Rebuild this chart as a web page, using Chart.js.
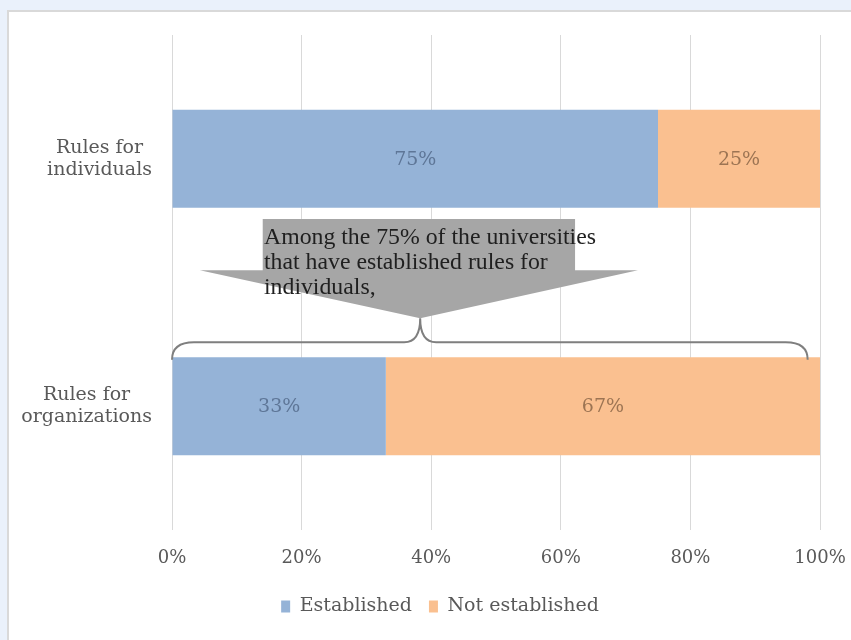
<!DOCTYPE html>
<html>
<head>
<meta charset="utf-8">
<script src="https://cdn.jsdelivr.net/npm/chart.js@4/dist/chart.umd.min.js"></script>
<style>
  html, body { margin: 0; padding: 0; background: #EAF1FB; }
  #wrap { position: absolute; left: 0; top: 0; width: 851px; height: 640px; }
</style>
</head>
<body>
<div id="wrap"><canvas id="c" width="851" height="640"></canvas></div>
<script>
// ---- data ----
const categories = [["Rules for", "individuals"], ["Rules for", "organizations"]];
const seriesNames = ["Established", "Not established"];
const established = [75, 33];
const notEstablished = [25, 67];
const xTicks = [0, 20, 40, 60, 80, 100];
const calloutLines = [
  "Among the 75% of the universities",
  "that have established rules for",
  "individuals,"
];

const SERIF = '"DejaVu Serif", "Liberation Serif", serif';
const TEXT = '#595959';

// background panel
const bgPlugin = {
  id: 'bg',
  beforeDraw(chart) {
    const ctx = chart.ctx;
    ctx.save();
    ctx.fillStyle = '#EAF1FB';
    ctx.fillRect(0, 0, chart.width, chart.height);
    ctx.fillStyle = '#FFFFFF';
    ctx.fillRect(7, 10, chart.width - 7, chart.height - 10);
    ctx.strokeStyle = '#D9D9D9';
    ctx.lineWidth = 2;
    ctx.beginPath();
    ctx.moveTo(8, chart.height);
    ctx.lineTo(8, 11);
    ctx.lineTo(chart.width, 11);
    ctx.stroke();
    ctx.restore();
  }
};

// category labels: each label block right-aligned to the axis, lines centred within the block
const yLabelPlugin = {
  id: 'ylabels',
  afterDraw(chart) {
    const ctx = chart.ctx;
    const ys = chart.scales.y;
    const right = chart.chartArea.left - 20;
    const lh = 22;
    ctx.save();
    ctx.font = '19px ' + SERIF;
    ctx.fillStyle = TEXT;
    ctx.textAlign = 'center';
    ctx.textBaseline = 'middle';
    chart.data.labels.forEach((lab, i) => {
      const lines = Array.isArray(lab) ? lab : [lab];
      const w = Math.max(...lines.map(l => ctx.measureText(l).width));
      const cx = right - w / 2;
      const cy = ys.getPixelForValue(i);
      lines.forEach((l, k) => {
        ctx.fillText(l, cx, cy + (k - (lines.length - 1) / 2) * lh);
      });
    });
    ctx.restore();
  }
};

// data labels
const labelColors = ['#5E7697', '#9C7453'];
const labelPlugin = {
  id: 'labels',
  afterDatasetsDraw(chart) {
    const ctx = chart.ctx;
    ctx.save();
    ctx.font = '19px ' + SERIF;
    ctx.textAlign = 'center';
    ctx.textBaseline = 'middle';
    chart.data.datasets.forEach((ds, di) => {
      const meta = chart.getDatasetMeta(di);
      meta.data.forEach((bar, i) => {
        const p = bar.getProps(['x', 'y', 'base'], true);
        ctx.fillStyle = labelColors[di];
        ctx.fillText(ds.data[i] + '%', (p.x + p.base) / 2, p.y + 1);
      });
    });
    ctx.restore();
  }
};

// callout + brace annotation (positions in data units / category fractions)
const annotation = {
  rect: { x0: 14.0, x1: 62.2, t0: 0.243 },
  wings: { x0: 4.3, x1: 71.9, t: 0.450 },
  tip: { x: 38.3, t: 0.644 },
  brace: { x0: 0, x1: 98.1, tEnd: 0.812, tH: 0.741, tTip: 0.644, xTip: 38.3 },
  text: { x: 14.2, t: [0.344, 0.446, 0.548], width: 332 }
};
const annotationPlugin = {
  id: 'callout',
  afterDatasetsDraw(chart) {
    const ctx = chart.ctx;
    const xs = chart.scales.x, ys = chart.scales.y;
    const X = v => xs.getPixelForValue(v);
    const y0 = ys.getPixelForValue(0), y1 = ys.getPixelForValue(1);
    const Y = t => y0 + t * (y1 - y0);
    const a = annotation;
    ctx.save();
    ctx.fillStyle = '#A6A6A6';
    ctx.beginPath();
    ctx.moveTo(X(a.rect.x0), Y(a.rect.t0));
    ctx.lineTo(X(a.rect.x1), Y(a.rect.t0));
    ctx.lineTo(X(a.rect.x1), Y(a.wings.t));
    ctx.lineTo(X(a.wings.x1), Y(a.wings.t));
    ctx.lineTo(X(a.tip.x), Y(a.tip.t));
    ctx.lineTo(X(a.wings.x0), Y(a.wings.t));
    ctx.lineTo(X(a.rect.x0), Y(a.wings.t));
    ctx.closePath();
    ctx.fill();
    ctx.fillStyle = '#1F1F1F';
    ctx.textAlign = 'left';
    ctx.textBaseline = 'alphabetic';
    const fam = '"Liberation Serif", serif';
    ctx.font = '20px ' + fam;
    const w = ctx.measureText(calloutLines[0]).width;
    const size = 20 * a.text.width / w;
    ctx.font = size.toFixed(2) + 'px ' + fam;
    calloutLines.forEach((line, i) => {
      ctx.fillText(line, X(a.text.x), Y(a.text.t[i]));
    });
    const b = a.brace;
    const xl = X(b.x0), xr = X(b.x1), xt = X(b.xTip);
    const yE = Y(b.tEnd), yH = Y(b.tH), yT = Y(b.tTip);
    const r = 22, r2 = 16;
    ctx.strokeStyle = '#7F7F7F';
    ctx.lineWidth = 2;
    ctx.beginPath();
    ctx.moveTo(xl, yE);
    ctx.quadraticCurveTo(xl, yH, xl + r, yH);
    ctx.lineTo(xt - r2, yH);
    ctx.quadraticCurveTo(xt, yH, xt, yT);
    ctx.quadraticCurveTo(xt, yH, xt + r2, yH);
    ctx.lineTo(xr - r, yH);
    ctx.quadraticCurveTo(xr, yH, xr, yE);
    ctx.stroke();
    ctx.restore();
  }
};

new Chart(document.getElementById('c'), {
  type: 'bar',
  data: {
    labels: categories,
    datasets: [
      { label: seriesNames[0], data: established, backgroundColor: '#95B3D7', borderWidth: 0 },
      { label: seriesNames[1], data: notEstablished, backgroundColor: '#FAC090', borderWidth: 0 }
    ]
  },
  options: {
    indexAxis: 'y',
    responsive: false,
    animation: false,
    devicePixelRatio: 1,
    barPercentage: 0.8,
    categoryPercentage: 0.495,
    layout: { padding: { left: 60, right: 31, top: 35, bottom: 14 } },
    scales: {
      x: {
        stacked: true,
        min: 0, max: 100,
        afterBuildTicks(scale) { scale.ticks = xTicks.map(v => ({ value: v })); },
        afterFit(scale) { scale.height = 50; scale.paddingLeft = 0; scale.paddingRight = 0; },
        grid: { color: '#D9D9D9', lineWidth: 1, drawTicks: false },
        border: { display: false },
        ticks: {
          padding: 18,
          color: TEXT,
          font: { family: SERIF, size: 18 },
          callback: v => v + '%'
        }
      },
      y: {
        stacked: true,
        afterFit(scale) { scale.width = 112; scale.paddingTop = 0; scale.paddingBottom = 0; },
        grid: { display: false, drawTicks: false },
        border: { display: false },
        ticks: { display: false }
      }
    },
    plugins: {
      legend: {
        position: 'bottom',
        labels: {
          boxWidth: 9,
          boxHeight: 12,
          padding: 17,
          color: TEXT,
          font: { family: SERIF, size: 19 }
        }
      },
      tooltip: { enabled: false }
    }
  },
  plugins: [bgPlugin, labelPlugin, annotationPlugin, yLabelPlugin]
});
</script>
</body>
</html>
